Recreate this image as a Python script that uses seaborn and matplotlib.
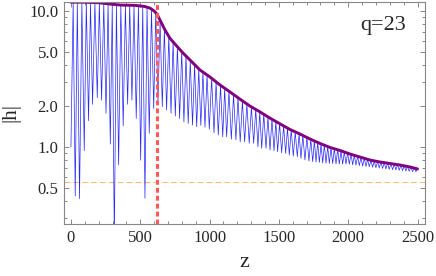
import matplotlib
matplotlib.use("Agg")
import numpy as np
import matplotlib.pyplot as plt
import seaborn as sns
from matplotlib.ticker import FixedLocator, NullFormatter

# dips of the oscillating |h| (blue)
dip_z = [0, 31, 62, 96, 127, 156, 190, 221, 253, 284, 313, 344, 377, 409, 440, 471, 503, 534, 565, 597,
         628, 659, 690, 722, 753, 784, 815, 846, 877, 907, 937, 967, 998, 1032, 1063, 1095, 1123, 1157, 1190, 1221,
         1253, 1286, 1318, 1349, 1376, 1407, 1436, 1465, 1491, 1520, 1549, 1575, 1604, 1633, 1659, 1688, 1717, 1744,
         1768, 1792, 1816, 1840, 1864, 1888, 1912, 1936, 1960, 1984, 2008, 2032, 2056, 2080, 2104, 2128, 2152, 2176,
         2200, 2224, 2248, 2272, 2296, 2320, 2344, 2368, 2392, 2416, 2440, 2464, 2488]
dip_h = [1.0, 0.436, 0.417, 0.94, 1.56, 2.06, 2.30, 2.21, 1.77, 1.05, 0.2, 0.74, 1.43, 2.06, 2.21, 1.62, 0.80, 0.42, 1.26, 1.92,
         2.14, 1.98, 1.87, 1.77, 1.69, 1.62, 1.53, 1.49, 1.45, 1.41, 1.44, 1.40, 1.35, 1.27, 1.225, 1.19, 1.19, 1.14, 1.13, 1.09,
         1.09, 1.065, 1.065, 1.005, 0.978, 0.978, 0.95, 0.939, 0.923, 0.908, 0.899, 0.873, 0.859, 0.849, 0.826, 0.803, 0.789, 0.78,
         0.776, 0.77, 0.763, 0.76, 0.757, 0.755, 0.752, 0.75, 0.748, 0.75, 0.747, 0.74, 0.735, 0.73, 0.724, 0.72, 0.715, 0.71,
         0.705, 0.70, 0.695, 0.69, 0.686, 0.682, 0.678, 0.674, 0.67, 0.666, 0.663, 0.66, 0.658]

# peaks of the oscillating |h| (blue)
peak_z = [16, 46, 79, 111, 141, 173, 205, 237, 268, 298, 328, 360, 393, 424, 455, 487, 518, 549, 581, 612,
          643, 674, 706, 737, 768, 799, 830, 861, 892, 922, 952, 982, 1015, 1047, 1079, 1109, 1140, 1173, 1205, 1237,
          1269, 1302, 1333, 1362, 1391, 1421, 1450, 1478, 1505, 1534, 1562, 1589, 1618, 1646, 1673, 1702, 1730, 1756,
          1780, 1804, 1828, 1852, 1876, 1900, 1924, 1948, 1972, 1996, 2020, 2044, 2068, 2092, 2116, 2140, 2164, 2188,
          2212, 2236, 2260, 2284, 2308, 2332, 2356, 2380, 2404, 2428, 2452, 2476, 2500]
peak_h = [11.6, 11.6, 11.6, 11.6, 11.55, 11.55, 11.5, 11.4, 11.3, 11.2, 11.15, 11.05, 11.0, 11.0, 11.0, 10.95, 10.85, 10.7, 10.4, 9.8,
          8.6, 7.4, 6.5, 5.95, 5.5, 5.05, 4.7, 4.35, 4.05, 3.75, 3.55, 3.38, 3.2, 3.0, 2.84, 2.7, 2.57, 2.42, 2.3, 2.18,
          2.07, 1.97, 1.89, 1.81, 1.74, 1.66, 1.6, 1.54, 1.49, 1.43, 1.38, 1.335, 1.29, 1.255, 1.215, 1.175, 1.14, 1.11,
          1.085, 1.055, 1.035, 1.01, 0.99, 0.975, 0.96, 0.94, 0.925, 0.91, 0.895, 0.87, 0.855, 0.84, 0.825, 0.81, 0.80, 0.79,
          0.782, 0.775, 0.768, 0.762, 0.755, 0.749, 0.742, 0.736, 0.728, 0.72, 0.711, 0.70, 0.69]

# envelope (purple)
env_z = [0, 100, 200, 280, 360, 460, 530, 570, 600, 620, 642, 678, 714, 750, 808, 859, 931, 1003, 1075, 1147,
         1219, 1291, 1364, 1436, 1508, 1580, 1652, 1724, 1797, 1869, 1941, 2013, 2085, 2157, 2229, 2302, 2374, 2446, 2500]
env_h = [11.6, 11.6, 11.5, 11.25, 11.05, 11.0, 10.8, 10.5, 10.0, 9.5, 8.6, 7.26, 6.3, 5.72, 4.91, 4.36, 3.68, 3.27, 2.86, 2.54,
         2.25, 2.00, 1.81, 1.63, 1.48, 1.345, 1.246, 1.145, 1.061, 0.992, 0.943, 0.888, 0.844, 0.802, 0.776, 0.756, 0.737, 0.713, 0.69]

z_cut = 620
h_ref = 0.55
x_ticks = [0, 500, 1000, 1500, 2000, 2500]
y_ticks = [0.5, 1.0, 2.0, 5.0, 10.0]
y_labels = ["0.5", "1.0", "2.0", "5.0", "10.0"]

sns.set_style("ticks")
plt.rcParams['font.family'] = ['Liberation Serif', 'DejaVu Serif']

blue_z = np.array(dip_z + peak_z)
blue_h = np.array(dip_h + peak_h)
order = np.argsort(blue_z, kind="stable")
blue_z, blue_h = blue_z[order], blue_h[order]

fig = plt.figure(figsize=(4.36, 2.76), dpi=100)
ax = fig.add_axes([64 / 436, 1 - 224 / 276, 361 / 436, 222.3 / 276])

sns.lineplot(x=blue_z, y=blue_h, sort=False, estimator=None, color="#2626ff", lw=0.5, ax=ax)
sns.lineplot(x=env_z, y=env_h, sort=False, estimator=None, color="#800080", lw=2.1, ax=ax)
ax.axvline(z_cut, color="#ff5a5a", lw=2.2, linestyle=(0, (1.6, 1.0)), zorder=5)
ax.axhline(h_ref, color="#ffbb77", lw=0.8, linestyle=(0, (5, 3)), zorder=1)

ax.set_yscale("log")
ax.set_xlim(-50, 2554)
ax.set_ylim(0.2716, 11.7)

ax.xaxis.set_major_locator(FixedLocator(x_ticks))
ax.xaxis.set_minor_locator(FixedLocator(list(range(0, 2600, 100))))
ax.yaxis.set_major_locator(FixedLocator(y_ticks))
ax.set_yticklabels(y_labels)
minor_y = [0.3, 0.4, 0.6, 0.7, 0.8, 0.9, 3, 4, 6, 7, 8, 9]
ax.yaxis.set_minor_locator(FixedLocator(minor_y))
ax.yaxis.set_minor_formatter(NullFormatter())

for s in ax.spines.values():
    s.set_color("#888888")
    s.set_linewidth(0.8)
ax.tick_params(which="both", direction="in", top=True, right=True, color="#888888", width=0.7)
ax.tick_params(which="major", length=3.5, labelsize=12, pad=4)
ax.tick_params(which="minor", length=2)

ax.set_xlabel("z", fontsize=16)
ax.set_ylabel("|h|", fontsize=15)
ax.xaxis.set_label_coords(0.5, -0.13)
ax.yaxis.set_label_coords(-0.122, 0.5)

ax.text(0.884, 0.895, "q=23", transform=ax.transAxes, fontsize=16, ha="center", va="center")

fig.savefig("out.png", dpi=100)
